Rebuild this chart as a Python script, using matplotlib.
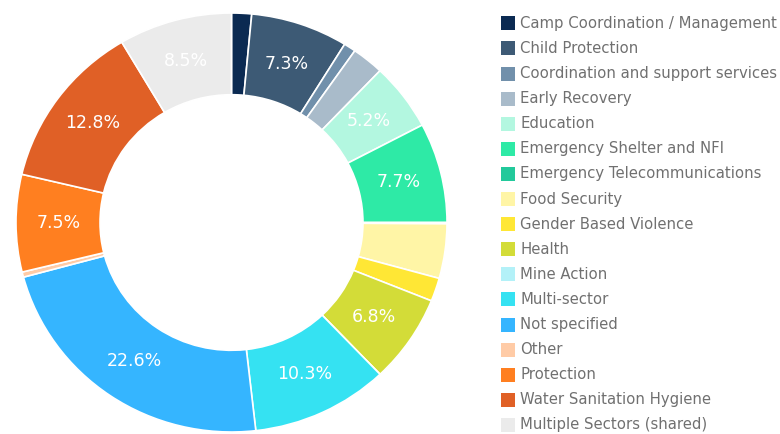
import matplotlib
matplotlib.use('Agg')

import matplotlib.pyplot as plt
from matplotlib.patches import Rectangle

sectors = [
    "Camp Coordination / Management", "Child Protection",
    "Coordination and support services", "Early Recovery", "Education",
    "Emergency Shelter and NFI", "Emergency Telecommunications",
    "Food Security", "Gender Based Violence", "Health", "Mine Action",
    "Multi-sector", "Not specified", "Other", "Protection",
    "Water Sanitation Hygiene", "Multiple Sectors (shared)",
]
shares = [1.5, 7.3, 0.9, 2.4, 5.2, 7.7, 0.1, 4.2, 1.8, 6.8, 0.0,
          10.3, 22.6, 0.4, 7.5, 12.8, 8.5]
colors = ["#0b2a52", "#3d5a75", "#7190ab", "#a9bbca", "#b3f7e0",
          "#2eeaa6", "#22c99b", "#fff5a6", "#ffe735", "#d3dc38",
          "#b3f1f8", "#35e2f2", "#35b5ff", "#ffcba6", "#ff7f20",
          "#e06026", "#ebebeb"]

fig = plt.figure(figsize=(7.8, 4.34), dpi=100)
ax = fig.add_axes([0.0205, 0.0046, 0.5526, 0.9654])

wedges, texts, autotexts = ax.pie(
    shares, colors=colors, startangle=90, counterclock=False,
    autopct=lambda p: f"{p:.1f}%" if p >= 5 else "",
    pctdistance=0.8,
    wedgeprops=dict(width=0.39, edgecolor="white", linewidth=1.2),
    textprops=dict(color="white", fontsize=12.5))
ax.set_xlim(-1, 1)
ax.set_ylim(-1, 1)
ax.set_aspect('auto')

# legend drawn by hand so the row spacing matches
for i, (name, c) in enumerate(zip(sectors, colors)):
    y = 1 - (23.3 + i * 25.1) / 434
    fig.patches.append(Rectangle((501 / 780, y - 7 / 434), 14 / 780, 14 / 434,
                                 facecolor=c, transform=fig.transFigure))
    fig.text(520 / 780, y, name, color="#707070", fontsize=10.75, va="center")

plt.savefig("out.png", facecolor="white")
